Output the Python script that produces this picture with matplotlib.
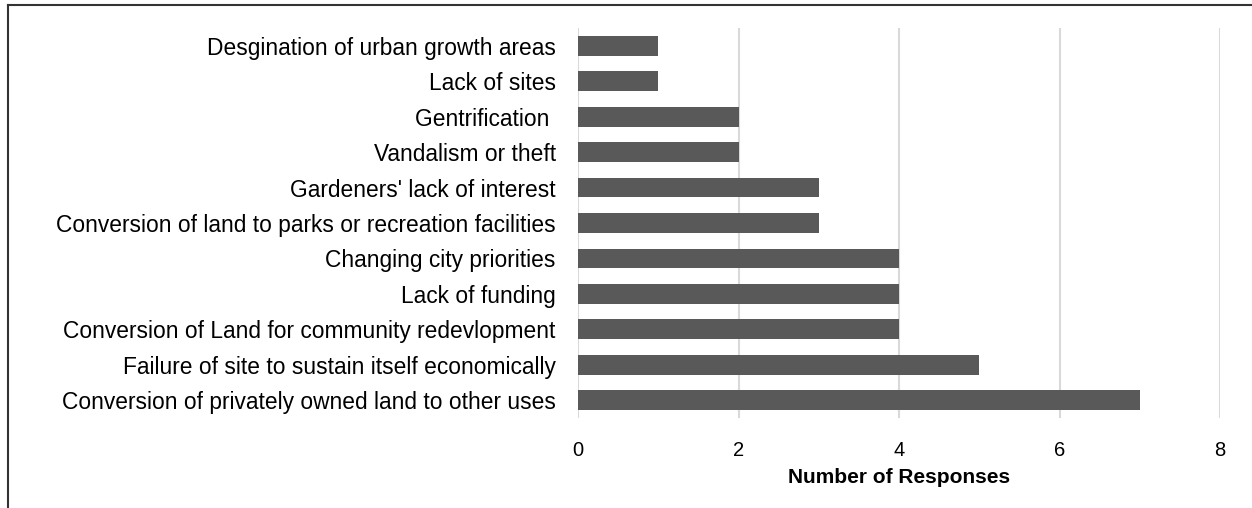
import matplotlib
matplotlib.use("Agg")
import matplotlib.pyplot as plt
from matplotlib.lines import Line2D

categories = [
    "Desgination of urban growth areas",
    "Lack of sites",
    "Gentrification ",
    "Vandalism or theft",
    "Gardeners' lack of interest",
    "Conversion of land to parks or recreation facilities",
    "Changing city priorities",
    "Lack of funding",
    "Conversion of Land for community redevlopment",
    "Failure of site to sustain itself economically",
    "Conversion of privately owned land to other uses",
]
values = [1, 1, 2, 2, 3, 3, 4, 4, 4, 5, 7]
xticks = [0, 2, 4, 6, 8]

plt.rcParams['font.family'] = ['Liberation Sans', 'DejaVu Sans']

fig = plt.figure(figsize=(12.52, 5.08), dpi=100)
ax = fig.add_axes([578/1252, 1-418/508, (1220-578)/1252, 390/508])

ypos = list(range(len(categories)))
ax.barh(ypos, values, height=0.56, color='#595959', zorder=3)
ax.set_ylim(len(categories)-0.5, -0.5)
ax.set_xlim(0, 8)
ax.set_yticks(ypos)
ax.set_yticklabels(categories, fontsize=16.4, color='#000000')
ax.set_xticks(xticks)
ax.set_xticklabels([str(t) for t in xticks], fontsize=14.5)
ax.tick_params(axis='both', length=0)
ax.tick_params(axis='y', pad=16)
ax.tick_params(axis='x', pad=16.5)
ax.grid(axis='x', color='#d9d9d9', linewidth=1.5, zorder=0)
for s in ax.spines.values():
    s.set_visible(False)
ax.set_xlabel("Number of Responses", fontsize=15, fontweight='bold', labelpad=6)

fig.add_artist(Line2D([8/1252, 1.0], [1-5/508, 1-5/508], transform=fig.transFigure,
                      color='#333333', linewidth=1.5))
fig.add_artist(Line2D([8/1252, 8/1252], [0, 1-5/508], transform=fig.transFigure,
                      color='#333333', linewidth=1.5))

fig.savefig("out.png", dpi=100)
